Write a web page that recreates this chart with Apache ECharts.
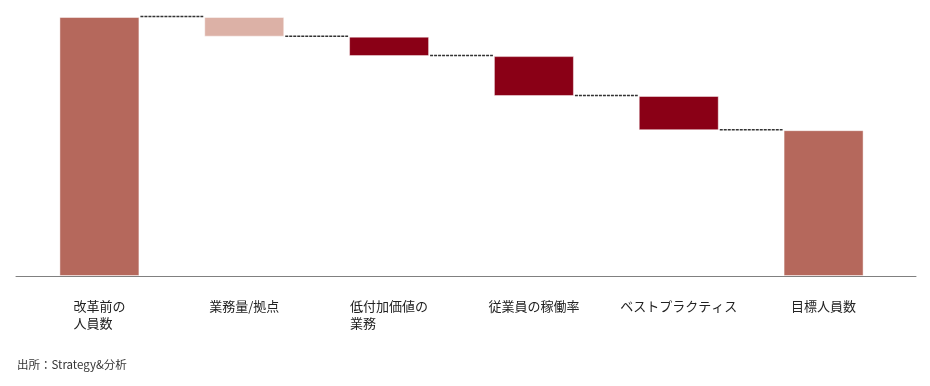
<!DOCTYPE html>
<html>
<head>
<meta charset="utf-8">
<script src="https://cdn.jsdelivr.net/npm/echarts@6/dist/echarts.min.js"></script>
<style>
html,body{margin:0;padding:0;background:#fff;}
#chart{width:930px;height:386px;}
</style>
</head>
<body>
<div id="chart"></div>
<script>
const categories = ['改革前の\n人員数', '業務量/拠点', '低付加価値の\n業務', '従業員の稼働率', 'ベストプラクティス', '目標人員数'];
const startValue = 100;
const deltas = [-7.6, -7.5, -15.4, -13.2];
const endValue = 56.3;
const sourceText = '出所：Strategy&分析';

const colTotal = '#B5685C';
const colLight = '#DCB1A6';
const colDark = '#8A0016';

// build stacked waterfall
const baseData = [];
const valData = [];
const levels = [];
let running = startValue;
baseData.push(0);
valData.push({value: startValue, itemStyle: {color: colTotal}});
levels.push(running);
deltas.forEach((d, i) => {
  const next = running + d;
  baseData.push(Math.min(running, next));
  valData.push({value: Math.abs(d), itemStyle: {color: i === 0 ? colLight : colDark}});
  running = next;
  levels.push(running);
});
baseData.push(0);
valData.push({value: endValue, itemStyle: {color: colTotal}});

const connData = levels.map((v, i) => [i, v]);

function padLabel(s) {
  const lines = s.split('\n');
  const maxLen = Math.max(...lines.map(l => l.length));
  return lines.map(l => l + '\u3000'.repeat(maxLen - l.length)).join('\n');
}

const chart = echarts.init(document.getElementById('chart'));
chart.setOption({
  animation: false,
  backgroundColor: '#fff',
  title: {
    text: sourceText,
    left: 17, top: 359, padding: 0,
    textStyle: {fontSize: 11.5, fontWeight: 'normal', color: '#333', fontFamily: 'Noto Sans CJK JP'}
  },
  grid: [
    {left: 27, right: 34, top: 17, bottom: 110},
    {left: 16, right: 14, top: 17, bottom: 110}
  ],
  xAxis: [
    {
      type: 'category', gridIndex: 0, data: categories,
      axisLine: {show: false}, axisTick: {show: false},
      axisLabel: {
        interval: 0, margin: 22, fontSize: 13, lineHeight: 17,
        color: '#222', fontFamily: 'Noto Sans CJK JP',
        formatter: padLabel
      }
    },
    {
      type: 'category', gridIndex: 1, data: categories,
      axisLine: {show: true, lineStyle: {color: '#808080', width: 1}},
      axisTick: {show: false}, axisLabel: {show: false}
    }
  ],
  yAxis: [
    {type: 'value', gridIndex: 0, min: 0, max: 100, show: false},
    {type: 'value', gridIndex: 1, min: 0, max: 100, show: false}
  ],
  series: [
    {
      type: 'bar', stack: 'w', xAxisIndex: 0, yAxisIndex: 0,
      data: baseData, barWidth: 80,
      itemStyle: {color: 'transparent'}, silent: true
    },
    {
      type: 'bar', stack: 'w', xAxisIndex: 0, yAxisIndex: 0,
      data: valData, barWidth: 80,
      itemStyle: {borderColor: 'rgba(255,255,255,0.45)', borderWidth: 1}
    },
    {
      type: 'custom', xAxisIndex: 0, yAxisIndex: 0,
      data: connData,
      encode: {x: 0, y: 1},
      renderItem: function (params, api) {
        const i = api.value(0);
        const v = api.value(1);
        const p0 = api.coord([i, v]);
        const p1 = api.coord([i + 1, v]);
        const half = 40;
        return {
          type: 'line',
          shape: {x1: p0[0] + half + 1, y1: p0[1] - 0.5, x2: p1[0] - half - 1, y2: p1[1] - 0.5},
          style: {stroke: '#333', lineWidth: 1.5, lineDash: [3, 1]}
        };
      }
    }
  ]
});
</script>
</body>
</html>
